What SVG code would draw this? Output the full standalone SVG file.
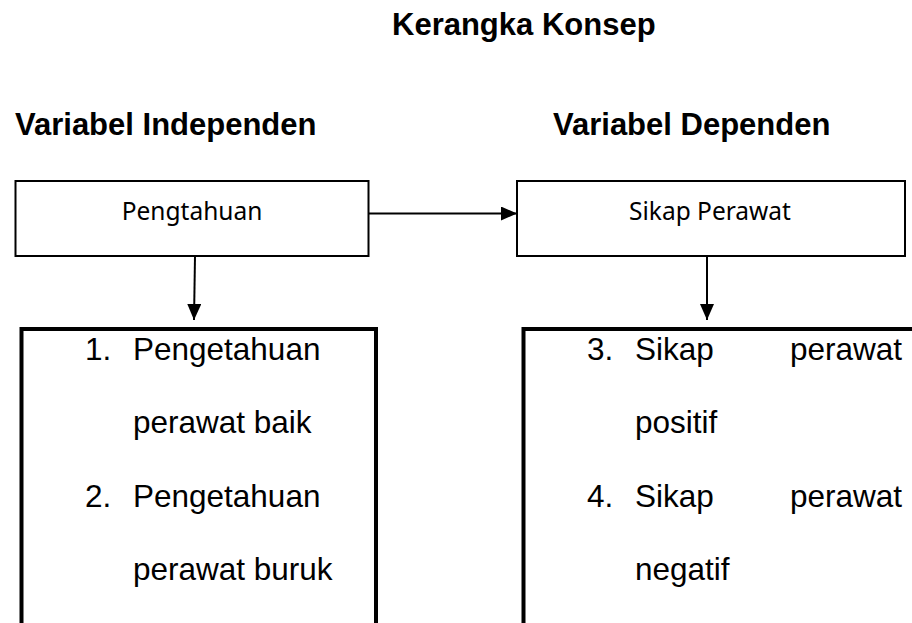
<svg xmlns="http://www.w3.org/2000/svg" width="912" height="623" viewBox="0 0 912 623">
<style>
.h{font-family:"Liberation Sans",Arial,sans-serif;font-weight:bold;font-size:31px;fill:#000}
.t{font-family:"Liberation Sans",Arial,sans-serif;font-size:31.5px;fill:#000}
.b{font-family:"Noto Sans","Open Sans",sans-serif;font-size:24.5px;fill:#000;text-anchor:middle}
.box{fill:#fff;stroke:#000;stroke-width:2}
.thick{fill:none;stroke:#000;stroke-width:4}
.c{stroke:#000;stroke-width:2;fill:none}
</style>
<defs>
<marker id="ah" viewBox="0 0 16 14" refX="16" refY="7" markerWidth="16" markerHeight="14" markerUnits="userSpaceOnUse" orient="auto">
<path d="M0,0 L16,7 L0,14 Z" fill="#000"/>
</marker>
</defs>
<rect width="912" height="623" fill="#fff"/>
<text class="h" x="392" y="35">Kerangka Konsep</text>
<text class="h" x="15" y="135">Variabel Independen</text>
<text class="h" x="553" y="135">Variabel Dependen</text>
<g id="pengtahuan">
<rect class="box" x="15.5" y="181" width="353" height="75"/>
<text class="b" x="192" y="220">Pengtahuan</text>
</g>
<g id="sikap-perawat">
<rect class="box" x="517" y="181" width="388" height="75"/>
<text class="b" x="710" y="220">Sikap Perawat</text>
</g>
<g id="pengetahuan-list">
<path class="thick" d="M21.5,623 V329 H376 V623"/>
<text class="t" x="85" y="360">1.</text>
<text class="t" x="133" y="360">Pengetahuan</text>
<text class="t" x="133" y="433">perawat baik</text>
<text class="t" x="85" y="507">2.</text>
<text class="t" x="133" y="507">Pengetahuan</text>
<text class="t" x="133" y="580">perawat buruk</text>
</g>
<g id="sikap-list">
<path class="thick" d="M523.5,623 V329 H914"/>
<text class="t" x="587" y="360">3.</text>
<text class="t" x="635" y="360">Sikap</text>
<text class="t" x="902" y="360" text-anchor="end">perawat</text>
<text class="t" x="635" y="433">positif</text>
<text class="t" x="587" y="507">4.</text>
<text class="t" x="635" y="507">Sikap</text>
<text class="t" x="902" y="507" text-anchor="end">perawat</text>
<text class="t" x="635" y="580">negatif</text>
</g>
<g id="connectors">
<line class="c" x1="369" y1="213.5" x2="517" y2="213.5" marker-end="url(#ah)"/>
<line class="c" x1="195" y1="256" x2="194" y2="320" marker-end="url(#ah)"/>
<line class="c" x1="707" y1="256" x2="707" y2="320" marker-end="url(#ah)"/>
</g>
</svg>
